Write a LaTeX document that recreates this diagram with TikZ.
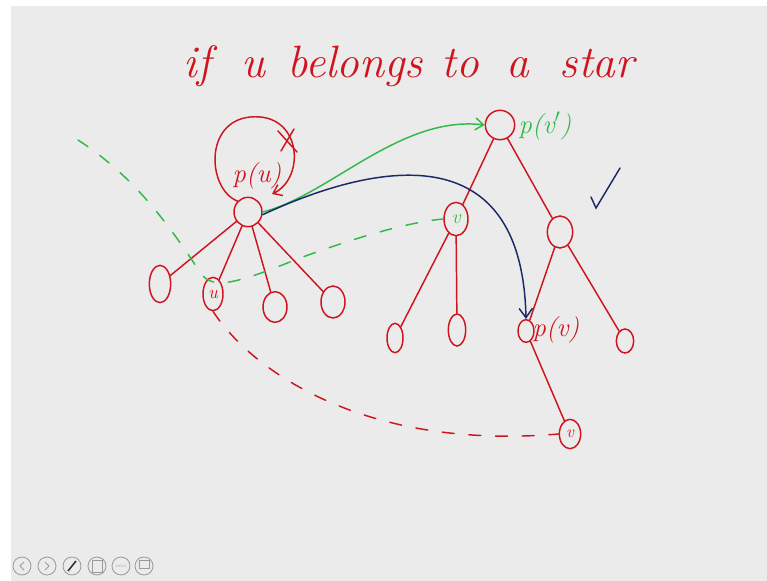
\documentclass[tikz,border=0pt]{standalone}
\usetikzlibrary{shapes.geometric,arrows.meta}
\definecolor{inkred}{HTML}{D0141E}
\definecolor{inkgreen}{HTML}{33B84A}
\definecolor{inknavy}{HTML}{1B2A66}
\definecolor{slidebg}{HTML}{EBEBEB}
\definecolor{icongray}{HTML}{9A9A9A}
\begin{document}
\begin{tikzpicture}[x=0.75pt,y=-0.75pt,
  ink/.style={line width=1.1pt,line cap=round},
  tnode/.style={ellipse,draw=inkred,ink,inner sep=0pt},
  tedge/.style={draw=inkred,ink},
  title/.style={text=inkred,font=\itshape\fontsize{34}{34}\selectfont,anchor=base},
  lbl/.style={font=\itshape\fontsize{20}{20}\selectfont,inner sep=0pt},
  gdash/.style={draw=inkgreen,ink,dash pattern=on 9pt off 11pt},
  rdash/.style={draw=inkred,ink,dash pattern=on 9pt off 11pt},
  icon/.style={circle,draw=icongray,line width=0.6pt,minimum size=13.5pt,inner sep=0pt}]
\useasboundingbox (0,0) rectangle (767,581);
\fill[white] (0,0) rectangle (767,581);
\fill[slidebg] (11,6) rectangle (767,581);
% title
\node[title] (w1) at (197,78) {if};
\node[title] (w2) at (253,78) {u};
\node[title] (w3) at (355,78) {belongs};
\node[title] (w4) at (460,78) {to};
\node[title] (w5) at (518,78) {a};
\node[title] (w6) at (597,78) {star};
% tree 1
\node[tnode,minimum width=21pt,minimum height=22pt] (pu) at (248,212) {};
\node[tnode,minimum width=16pt,minimum height=28pt] (l1) at (160,284) {};
\node[tnode,minimum width=15pt,minimum height=25pt,text=inkred,font=\itshape\fontsize{14}{14}\selectfont] (u) at (213,294) {u};
\node[tnode,minimum width=18pt,minimum height=23pt] (l2) at (275,307) {};
\node[tnode,minimum width=18pt,minimum height=24pt] (l3) at (333,302) {};
\draw[tedge] (pu) -- (l1);
\draw[tedge] (pu) -- (u);
\draw[tedge] (pu) -- (l2);
\draw[tedge] (pu) -- (l3);
\node[lbl,text=inkred] (pulbl) at (257,176) {p(u)};
% self loop with X
\draw[draw=inkred,ink,-{Straight Barb[length=6pt,width=9pt]}] (pu.north west) .. controls (208,190) and (203,122) .. (250,117) .. controls (302,112) and (306,178) .. (272,194);
\coordinate (x1) at (278,131);
\coordinate (x2) at (297,152);
\coordinate (x3) at (294,129);
\coordinate (x4) at (281,151);
\draw[draw=inkred,ink] (x1) -- (x2);
\draw[draw=inkred,ink] (x3) -- (x4);
% tree 2
\node[tnode,minimum width=22pt,minimum height=22pt] (pvp) at (500,125) {};
\node[lbl,text=inkgreen] (pvplbl) at (545,126) {p(v$'$)};
\node[tnode,minimum width=18pt,minimum height=25pt,text=inkgreen,font=\itshape\fontsize{15}{15}\selectfont] (vp) at (456,219) {v};
\node[tnode,minimum width=19pt,minimum height=24pt] (n2) at (560,232) {};
\node[tnode,minimum width=12pt,minimum height=22pt] (a1) at (395,338) {};
\node[tnode,minimum width=13pt,minimum height=24pt] (a2) at (457,330) {};
\node[tnode,minimum width=12pt,minimum height=17pt] (pv) at (526,331) {};
\node[lbl,text=inkred] (pvlbl) at (556,330) {p(v)};
\node[tnode,minimum width=13pt,minimum height=18pt] (b1) at (625,341) {};
\node[tnode,minimum width=16pt,minimum height=22pt,text=inkred,font=\itshape\fontsize{13}{13}\selectfont] (v) at (570,434) {v};
\draw[tedge] (pvp) -- (vp);
\draw[tedge] (pvp) -- (n2);
\draw[tedge] (vp) -- (a1);
\draw[tedge] (vp) -- (a2);
\draw[tedge] (n2) -- (pv);
\draw[tedge] (n2) -- (b1);
\draw[tedge] (pv) -- (v);
% green arrow p(u) -> p(v')
\draw[draw=inkgreen,ink,-{Straight Barb[length=6pt,width=9pt]}] (pu.east) .. controls (330,195) and (400,115) .. (pvp.west);
% navy arrow p(u) -> p(v)
\draw[draw=inknavy,ink,-{Straight Barb[length=7pt,width=10pt]}] ([yshift=-2pt]pu.east) .. controls (370,165) and (522,130) .. (pv.north);
% green dashed curve
\coordinate (g0) at (78,140);
\draw[gdash] (g0) .. controls (140,180) and (175,235) .. (200,272) .. controls (212,292) and (240,282) .. (300,258) .. controls (360,236) and (410,222) .. (vp.west);
% red dashed curve u -> v
\draw[rdash] (u.south) .. controls (255,375) and (370,450) .. (v.west);
% check mark
\coordinate (c1) at (591,197);
\coordinate (c2) at (596,208);
\coordinate (c3) at (620,168);
\draw[draw=inknavy,ink] (c1) -- (c2) -- (c3);
% toolbar icons
\node[icon] (i1) at (22,566) {};
\node[icon] (i2) at (47,566) {};
\node[icon] (i3) at (72,566) {};
\node[icon] (i4) at (97,566) {};
\node[icon] (i5) at (121,566) {};
\node[icon] (i6) at (144,566) {};
\draw[icongray,line width=0.6pt] (24,562) -- (20,566) -- (24,570);
\draw[icongray,line width=0.6pt] (45,562) -- (49,566) -- (45,570);
\draw[black!80,line width=1.2pt] (68,571) -- (76,561);
\draw[icongray,line width=0.5pt] (92,560) rectangle (102,572);
\node[text=icongray,font=\fontsize{4}{4}\selectfont,inner sep=0pt] (dots) at (121,566) {ooo};
\draw[icongray,line width=0.5pt] (139,560) rectangle (149,568);
\end{tikzpicture}
\end{document}
